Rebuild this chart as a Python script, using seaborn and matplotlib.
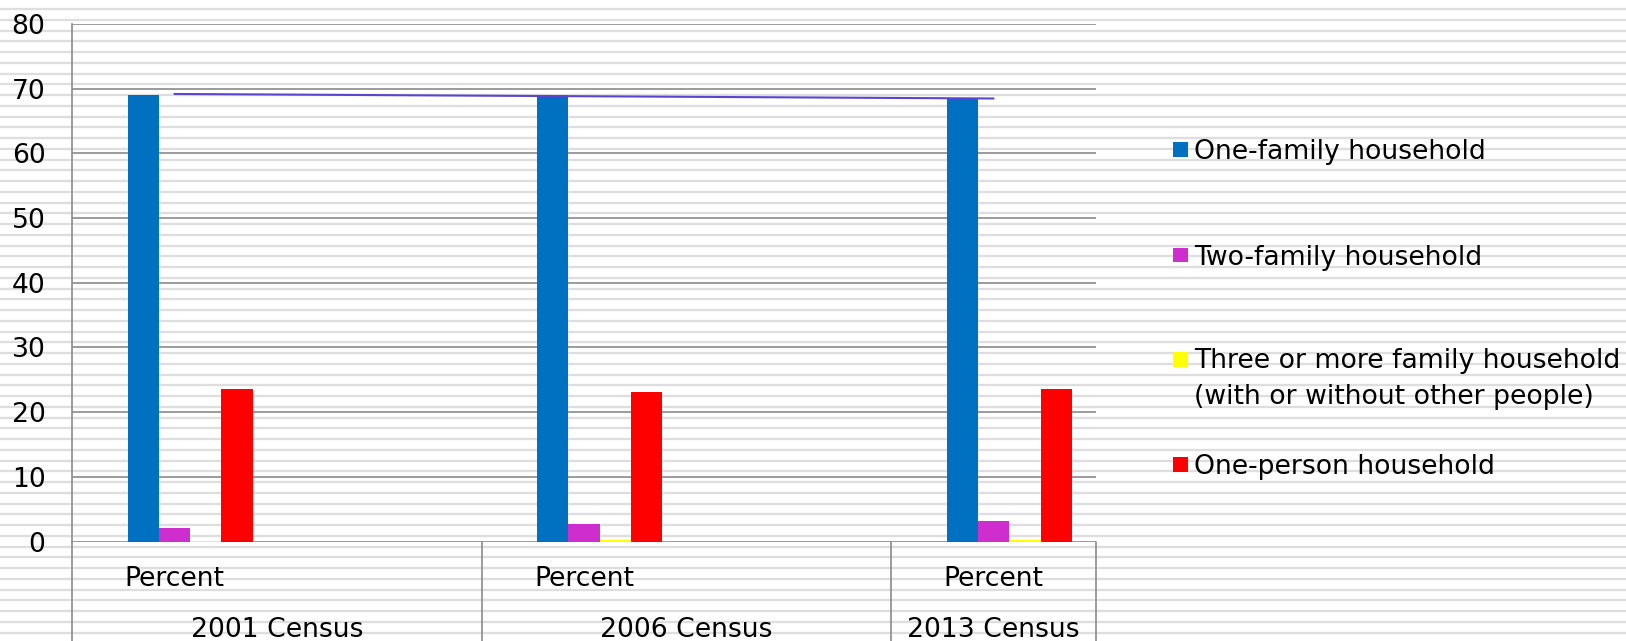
import numpy as np
import pandas as pd
import matplotlib
matplotlib.use("Agg")
import matplotlib.pyplot as plt
from matplotlib.patches import Rectangle
import seaborn as sns

# ---- data -------------------------------------------------------------
censuses = ["2001 Census", "2006 Census", "2013 Census"]
measure_label = "Percent"
series = [
    "One-family household",
    "Two-family household",
    "Three or more family household\n(with or without other people)",
    "One-person household",
]
one_family = [69.1, 69.0, 68.4]
two_family = [2.1, 2.7, 3.2]
three_plus_family = [0.1, 0.2, 0.2]
one_person = [23.5, 23.1, 23.6]
colors = ["#0070C0", "#CF2ECF", "#FFFF00", "#FF0000"]
trend_color = "#5B44D2"
y_ticks = [0, 10, 20, 30, 40, 50, 60, 70, 80]

values = [one_family, two_family, three_plus_family, one_person]
df = pd.DataFrame(
    [(c, s, v[i]) for s, v in zip(series, values) for i, c in enumerate(censuses)],
    columns=["census", "series", "value"],
)

# ---- figure -----------------------------------------------------------
sns.set_theme(style="white")
plt.rcParams["font.family"] = ["DejaVu Sans"]
FS = 19.2
W, H = 1626, 641
fig = plt.figure(figsize=(W / 100, H / 100), dpi=100, facecolor="white")

# striped page background
bg = fig.add_axes([0, 0, 1, 1], zorder=-1)
bg.set_xlim(0, W)
bg.set_ylim(H, 0)
bg.axis("off")
for yy in np.arange(9, H, 10.75):
    bg.axhline(yy, color="#dedede", lw=1.7)

left, right, top, zero = 72, 1096, 24, 541.5
ax = fig.add_axes([left / W, 1 - zero / H, (right - left) / W, (zero - top) / H])
ax.set_facecolor("none")

sns.barplot(
    data=df, x="census", y="value", hue="series", hue_order=series,
    palette=dict(zip(series, colors)), width=0.3054, saturation=1,
    linewidth=0, legend=False, ax=ax, zorder=3,
)

# category span: group centre sits 0.2885 right of each category's left edge
off = 0.2885
ax.set_xlim(-off, 2.5 - off)
ax.set_ylim(0, 80)
ax.set_yticks(y_ticks)
ax.set_yticklabels([str(t) for t in y_ticks], fontsize=FS, color="black")
ax.tick_params(axis="y", length=0, pad=19)
ax.set_xticks([])
ax.set_xlabel("")
ax.set_ylabel("")
for t in y_ticks:
    ax.axhline(t, color="#8a8a8a", lw=1.2, zorder=1)
for s in ["top", "right", "bottom"]:
    ax.spines[s].set_visible(False)
ax.spines["left"].set_color("#8a8a8a")
ax.spines["left"].set_linewidth(1.2)

# linear trend of the one-family share
idx = np.arange(len(censuses))
coef = np.polyfit(idx, one_family, 1)
trend = np.polyval(coef, idx)
sns.lineplot(x=idx - off + 0.25, y=trend, color=trend_color, lw=1.5, ax=ax, zorder=4)

# two-level category axis below the plot
xt = ax.get_xaxis_transform()
edges = [-off, 1 - off, 2 - off, 2.5 - off]
for e in edges:
    ax.plot([e, e], [0, -0.2], color="#8a8a8a", lw=1.2, transform=xt, clip_on=False)
for i, c in enumerate(censuses):
    lo = i - off
    hi = min(lo + 1, 2.5 - off)
    ax.text(lo + 0.25, -0.086, measure_label, transform=xt, ha="center",
            va="baseline", fontsize=FS, color="black")
    ax.text((lo + hi) / 2, -0.1845, c, transform=xt, ha="center",
            va="baseline", fontsize=FS, color="black")

# legend: swatch beside the first line of each label
leg_y = [149.5, 255, 359.5, 464.5]
sq = 14.5
line_step = 34.6
for name, col, yc in zip(series, colors, leg_y):
    fig.patches.append(Rectangle((1173 / W, 1 - (yc + sq / 2) / H), sq / W, sq / H,
                                 transform=fig.transFigure, facecolor=col,
                                 edgecolor="none"))
    n_extra = name.count("\n")
    fig.text(1194 / W, 1 - (yc + 9.8 + n_extra * line_step) / H, name, ha="left",
             va="baseline", fontsize=FS, color="black", linespacing=1.5)

fig.savefig("out.png", dpi=100, facecolor="white")
